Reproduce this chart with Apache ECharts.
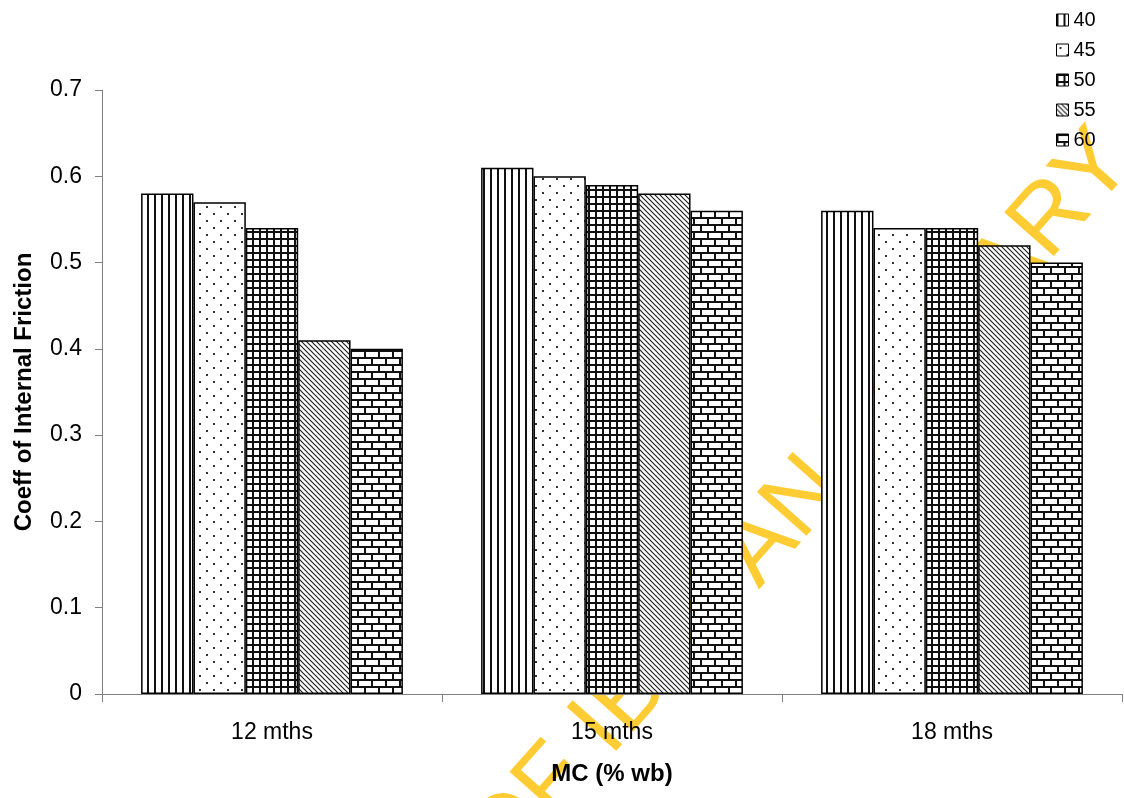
<!DOCTYPE html>
<html>
<head>
<meta charset="utf-8">
<title>Coeff of Internal Friction</title>
<script src="https://cdn.jsdelivr.net/npm/echarts@6/dist/echarts.min.js"></script>
<style>
  html, body { margin: 0; padding: 0; background: #fff; }
  #chart { width: 1124px; height: 798px; }
</style>
</head>
<body>
<div id="chart"></div>
<script>
// Storage period categories and series (temperature levels)
const categories = ['12 mths', '15 mths', '18 mths'];
const seriesNames = ['40', '45', '50', '55', '60'];
const values40 = [0.58, 0.61, 0.56];
const values45 = [0.57, 0.60, 0.54];
const values50 = [0.54, 0.59, 0.54];
const values55 = [0.41, 0.58, 0.52];
const values60 = [0.40, 0.56, 0.50];
const yTicks = { min: 0, max: 0.7, interval: 0.1 };

const FONT = "'Liberation Sans', Arial, sans-serif";

// Monochrome hatch fills, built as small repeating canvas tiles
function tile(w, h, draw) {
  const c = document.createElement('canvas');
  c.width = w; c.height = h;
  const g = c.getContext('2d');
  g.fillStyle = '#fff';
  g.fillRect(0, 0, w, h);
  draw(g, w, h);
  return { image: c, repeat: 'repeat' };
}

const patterns = [
  // vertical lines
  tile(7, 7, (g) => { g.fillStyle = '#111'; g.fillRect(0, 0, 2, 7); }),
  // sparse staggered dots
  tile(14, 14, (g) => {
    g.fillStyle = '#333';
    g.fillRect(3, 3, 2, 2);
    g.fillRect(10, 10, 2, 2);
  }),
  // square grid
  tile(7, 7, (g) => {
    g.fillStyle = '#111';
    g.fillRect(0, 0, 2, 7);
    g.fillRect(0, 0, 7, 2);
  }),
  // descending diagonal lines
  tile(5, 5, (g) => {
    g.strokeStyle = '#222';
    g.lineWidth = 1.2;
    g.beginPath();
    g.moveTo(-1, -1); g.lineTo(6, 6);
    g.moveTo(-1, 4); g.lineTo(1, 6);
    g.moveTo(4, -1); g.lineTo(6, 1);
    g.stroke();
  }),
  // brick
  tile(14, 14, (g) => {
    g.fillStyle = '#111';
    g.fillRect(0, 0, 14, 2);
    g.fillRect(0, 7, 14, 2);
    g.fillRect(0, 0, 2, 7);
    g.fillRect(7, 7, 2, 7);
  })
];

const seriesValues = [values40, values45, values50, values55, values60];

const chart = echarts.init(document.getElementById('chart'), null, { renderer: 'canvas' });

chart.setOption({
  animation: false,
  backgroundColor: '#fff',
  textStyle: { fontFamily: FONT, color: '#000' },
  grid: { left: 102, right: 2, top: 90, bottom: 104, containLabel: false, outerBoundsMode: 'none' },
  graphic: [{
    type: 'text',
    z: -10,
    x: 1116,
    y: 146,
    rotation: 48.5 * Math.PI / 180,
    silent: true,
    style: {
      text: 'UNIVERSITY OF IBADAN LIBRARY',
      fontSize: 96,
      fontFamily: FONT,
      fill: '#FFCC33',
      textAlign: 'right',
      textVerticalAlign: 'middle'
    }
  }],
  legend: {
    orient: 'vertical',
    left: 1051,
    top: 5,
    icon: 'rect',
    itemWidth: 12,
    itemHeight: 12,
    itemGap: 10,
    itemStyle: { borderColor: '#000', borderWidth: 1 },
    textStyle: { fontSize: 20, fontFamily: FONT, color: '#000' },
    data: seriesNames
  },
  xAxis: {
    type: 'category',
    data: categories,
    name: 'MC (% wb)',
    nameLocation: 'middle',
    nameGap: 68,
    nameTextStyle: { fontSize: 24, fontWeight: 'bold', fontFamily: FONT, color: '#000' },
    axisLine: { lineStyle: { color: '#808080', width: 1 } },
    axisTick: { show: true, length: 8, alignWithLabel: false, lineStyle: { color: '#808080' } },
    axisLabel: { fontSize: 23, color: '#000', margin: 27, fontFamily: FONT },
    splitLine: { show: false }
  },
  yAxis: {
    type: 'value',
    min: yTicks.min,
    max: yTicks.max,
    interval: yTicks.interval,
    name: 'Coeff of Internal Friction',
    nameLocation: 'middle',
    nameGap: 66,
    nameRotate: 90,
    nameTextStyle: { fontSize: 24, fontWeight: 'bold', fontFamily: FONT, color: '#000' },
    axisLine: { show: true, lineStyle: { color: '#808080', width: 1 } },
    axisTick: { show: true, length: 7, lineStyle: { color: '#808080' } },
    axisLabel: { fontSize: 23, color: '#000', margin: 20, fontFamily: FONT,
      formatter: (v) => String(Math.round(v * 10) / 10) },
    splitLine: { show: false }
  },
  series: seriesNames.map((name, i) => ({
    name: name,
    type: 'bar',
    data: seriesValues[i],
    barGap: '0%',
    barCategoryGap: '23%',
    itemStyle: { color: patterns[i], borderColor: '#000', borderWidth: 1.5 },
    emphasis: { disabled: true }
  }))
});
</script>
</body>
</html>
